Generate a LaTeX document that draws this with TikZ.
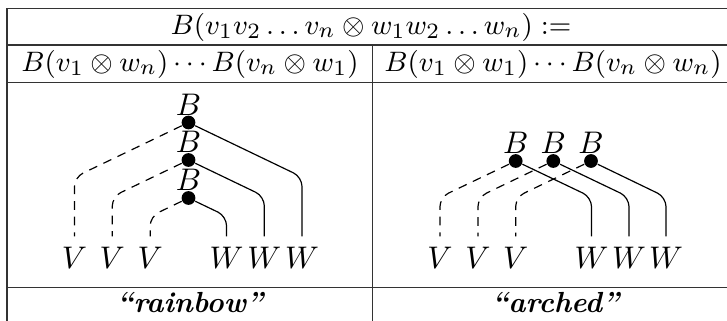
\documentclass[tikz,border=0pt]{standalone}
\usetikzlibrary{calc}
\begin{document}
\begin{tikzpicture}[x=0.32pt,y=-0.32pt,
  every node/.style={font=\fontsize{9.3}{11}\selectfont},
  rule/.style={draw=black!80,line width=0.5pt},
  dot/.style={circle,fill=black,draw=none,inner sep=0pt,minimum size=4.4pt},
  lab/.style={inner sep=0pt,outer sep=3.5pt,font=\fontsize{10.3}{12}\selectfont},
  vwire/.style={draw=black,line width=0.38pt,dash pattern=on 2.8pt off 2.2pt,rounded corners=3pt},
  wwire/.style={draw=black,line width=0.38pt,rounded corners=3pt}]
\useasboundingbox (0,0) rectangle (727,321);
\clip (0,0) rectangle (727,321);
% table rules
\draw[rule] (7,340) -- (7,8.7) -- (745,8.7);
\draw[rule] (7,45) -- (745,45);
\draw[rule] (7,82.7) -- (745,82.7);
\draw[rule] (7,287.5) -- (745,287.5);
\draw[rule] (372.7,45) -- (372.7,340);
% texts
\node (hdr) at (371,27) {$B(v_1v_2\ldots v_n\otimes w_1w_2\ldots w_n) :=$};
\node (hl) at (190,64) {$B(v_1\otimes w_n)\cdots B(v_n\otimes w_1)$};
\node (hr) at (553,64) {$B(v_1\otimes w_1)\cdots B(v_n\otimes w_n)$};
\node (rb) at (189.8,303) {\bfseries\itshape ``rainbow''};
\node (ar) at (555.3,303) {\bfseries\itshape ``arched''};
% left diagram
\node[dot] (a1) at (188.5,122.5) {};
\node[dot] (a2) at (188.5,160) {};
\node[dot] (a3) at (188.5,198) {};
\node[lab] (ab1) at (188.5,104.5) {$B$};
\node[lab] (ab2) at (188.5,142) {$B$};
\node[lab] (ab3) at (188.5,180) {$B$};
\node[lab] (av1) at (74.5,258) {$V$};
\node[lab] (av2) at (112.3,258) {$V$};
\node[lab] (av3) at (150.2,258) {$V$};
\node[lab] (aw1) at (226.5,258) {$W$};
\node[lab] (aw2) at (264.3,258) {$W$};
\node[lab] (aw3) at (302,258) {$W$};
\coordinate (acv1) at (74.5,177.2);
\coordinate (acv2) at (112.3,196.6);
\coordinate (acv3) at (150.2,216.4);
\coordinate (acw1) at (226.5,216.2);
\coordinate (acw2) at (264.3,196.4);
\coordinate (acw3) at (302,177);
\draw[vwire] (a1) -- (acv1) -- (av1.north);
\draw[vwire] (a2) -- (acv2) -- (av2.north);
\draw[vwire] (a3) -- (acv3) -- (av3.north);
\draw[wwire] (a3) -- (acw1) -- (aw1.north);
\draw[wwire] (a2) -- (acw2) -- (aw2.north);
\draw[wwire] (a1) -- (acw3) -- (aw3.north);
% right diagram
\node[dot] (b1) at (515.7,161) {};
\node[dot] (b2) at (553.3,161) {};
\node[dot] (b3) at (591,161) {};
\node[lab] (bb1) at (515.7,143) {$B$};
\node[lab] (bb2) at (553.3,143) {$B$};
\node[lab] (bb3) at (591,143) {$B$};
\node[lab] (bv1) at (440,258) {$V$};
\node[lab] (bv2) at (478,258) {$V$};
\node[lab] (bv3) at (515.7,258) {$V$};
\node[lab] (bw1) at (591.5,258) {$W$};
\node[lab] (bw2) at (629,258) {$W$};
\node[lab] (bw3) at (666,258) {$W$};
\coordinate (bcv1) at (440,197.2);
\coordinate (bcv2) at (478,197.2);
\coordinate (bcv3) at (515.7,197.2);
\coordinate (bcw1) at (591.5,197.2);
\coordinate (bcw2) at (629,197.2);
\coordinate (bcw3) at (666,197.2);
\draw[vwire] (b1) -- (bcv1) -- (bv1.north);
\draw[vwire] (b2) -- (bcv2) -- (bv2.north);
\draw[vwire] (b3) -- (bcv3) -- (bv3.north);
\draw[wwire] (b1) -- (bcw1) -- (bw1.north);
\draw[wwire] (b2) -- (bcw2) -- (bw2.north);
\draw[wwire] (b3) -- (bcw3) -- (bw3.north);
\end{tikzpicture}
\end{document}
